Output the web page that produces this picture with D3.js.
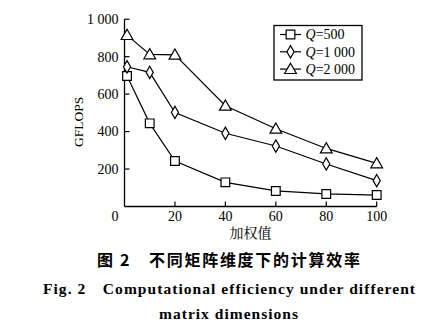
<!DOCTYPE html>
<html><head><meta charset="utf-8">
<script src="https://cdn.jsdelivr.net/npm/d3@7"></script>
<style>html,body{margin:0;padding:0;background:#fff;}svg{display:block;}</style>
</head><body>
<script>
const weights = [1, 10, 20, 40, 60, 80, 100];
const q500 = [697, 444, 243, 129, 83, 67, 61];
const q1000 = [746, 716, 502, 391, 323, 227, 138];
const q2000 = [915, 812, 810, 538, 415, 310, 230];
const seriesNames = ["500", "1 000", "2 000"];
const markers = ["square", "diamond", "triangle"];
const xTicks = [20, 40, 60, 80, 100];
const yTicks = [200, 400, 600, 800, 1000];
const yTickLabels = ["200", "400", "600", "800", "1 000"];
const xLabel = "加权值";
const yLabel = "GFLOPS";
const captionCn = "图 2\u3000不同矩阵维度下的计算效率";
const captionEn1 = "Fig. 2\u2003Computational efficiency under different";
const captionEn2 = "matrix dimensions";

const W = 447, H = 330;
const svg = d3.select("body").append("svg").attr("width", W).attr("height", H);
const serif = "Liberation Serif, Times New Roman, serif";
const x = d3.scaleLinear().domain([0, 100]).range([124.5, 376.7]);
const y = d3.scaleLinear().domain([0, 1000]).range([206.5, 19.2]);

const g = svg.append("g").attr("font-family", serif);
g.append("line").attr("x1", x(0)).attr("x2", x(0)).attr("y1", y(0)).attr("y2", y(1000)).attr("stroke", "#000").attr("stroke-width", 1.3);
g.append("line").attr("x1", x(0)).attr("x2", x(100)).attr("y1", y(0)).attr("y2", y(0)).attr("stroke", "#000").attr("stroke-width", 1.3);
yTicks.forEach((t, i) => {
  g.append("line").attr("x1", x(0)).attr("x2", x(0) + 5).attr("y1", y(t)).attr("y2", y(t)).attr("stroke", "#000").attr("stroke-width", 1.2);
  g.append("text").attr("x", x(0) - 6).attr("y", y(t)).attr("dy", "0.35em").attr("text-anchor", "end")
    .attr("font-size", 14).text(yTickLabels[i]);
});
xTicks.forEach(t => {
  g.append("line").attr("x1", x(t)).attr("x2", x(t)).attr("y1", y(0)).attr("y2", y(0) - 5).attr("stroke", "#000").attr("stroke-width", 1.2);
  g.append("text").attr("x", x(t)).attr("y", 220.5).attr("text-anchor", "middle").attr("font-size", 14).text(t);
});
g.append("text").attr("x", 115).attr("y", 220.5).attr("text-anchor", "middle").attr("font-size", 14).text("0");

g.append("text").attr("transform", `translate(83,${(y(0)+y(1000))/2 + 9}) rotate(-90)`).attr("text-anchor", "middle")
  .attr("font-size", 13.5).text(yLabel);
svg.append("text").attr("x", 250.5).attr("y", 238).attr("text-anchor", "middle").attr("font-size", 14)
  .attr("font-family", "Noto Serif CJK SC, Noto Sans CJK SC, serif").text(xLabel);

const sym = {
  square: d3.symbol().type(d3.symbolSquare).size(76),
  diamond: d3.symbol().type(d3.symbolDiamond).size(44),
  triangle: d3.symbol().type(d3.symbolTriangle).size(60)
};
const allSeries = [q500, q1000, q2000];
const line = d3.line().x((d, i) => x(weights[i])).y(d => y(d));
allSeries.forEach((vals, si) => {
  g.append("path").attr("d", line(vals)).attr("fill", "none").attr("stroke", "#000").attr("stroke-width", 1.2);
  g.selectAll(null).data(vals).enter().append("path")
    .attr("d", sym[markers[si]]())
    .attr("transform", (d, i) => `translate(${x(weights[i])},${y(d) + (markers[si] === "triangle" ? 1 : 0)})`)
    .attr("fill", "#fff").attr("stroke", "#000").attr("stroke-width", 1.2);
});

const lg = g.append("g");
lg.append("rect").attr("x", 274).attr("y", 25.5).attr("width", 88).attr("height", 54.5).attr("fill", "#fff").attr("stroke", "#000").attr("stroke-width", 1.3);
seriesNames.forEach((n, i) => {
  const yy = 34.5 + i * 17.3;
  lg.append("line").attr("x1", 280).attr("x2", 301).attr("y1", yy).attr("y2", yy).attr("stroke", "#000").attr("stroke-width", 1.2);
  lg.append("path").attr("d", sym[markers[i]]()).attr("transform", `translate(290.5,${yy + (i === 2 ? 1 : 0)})`)
    .attr("fill", "#fff").attr("stroke", "#000").attr("stroke-width", 1.2);
  const t = lg.append("text").attr("x", 305.5).attr("y", yy).attr("dy", "0.35em").attr("font-size", 14);
  t.append("tspan").attr("font-style", "italic").text("Q");
  t.append("tspan").text("=" + n);
});

svg.append("text").attr("x", 228.5).attr("y", 265.5).attr("text-anchor", "middle").attr("font-size", 16)
  .attr("font-family", "Noto Sans CJK SC, sans-serif").attr("font-weight", "bold").attr("textLength", 263).attr("lengthAdjust", "spacing").text(captionCn);
svg.append("text").attr("x", 43).attr("y", 293.5).attr("font-size", 15.5).attr("font-weight", "bold")
  .attr("font-family", serif).attr("textLength", 372).attr("lengthAdjust", "spacing").text(captionEn1);
svg.append("text").attr("x", 159).attr("y", 318.5).attr("font-size", 15.5).attr("font-weight", "bold")
  .attr("font-family", serif).attr("textLength", 139).attr("lengthAdjust", "spacing").text(captionEn2);
</script>
</body></html>
